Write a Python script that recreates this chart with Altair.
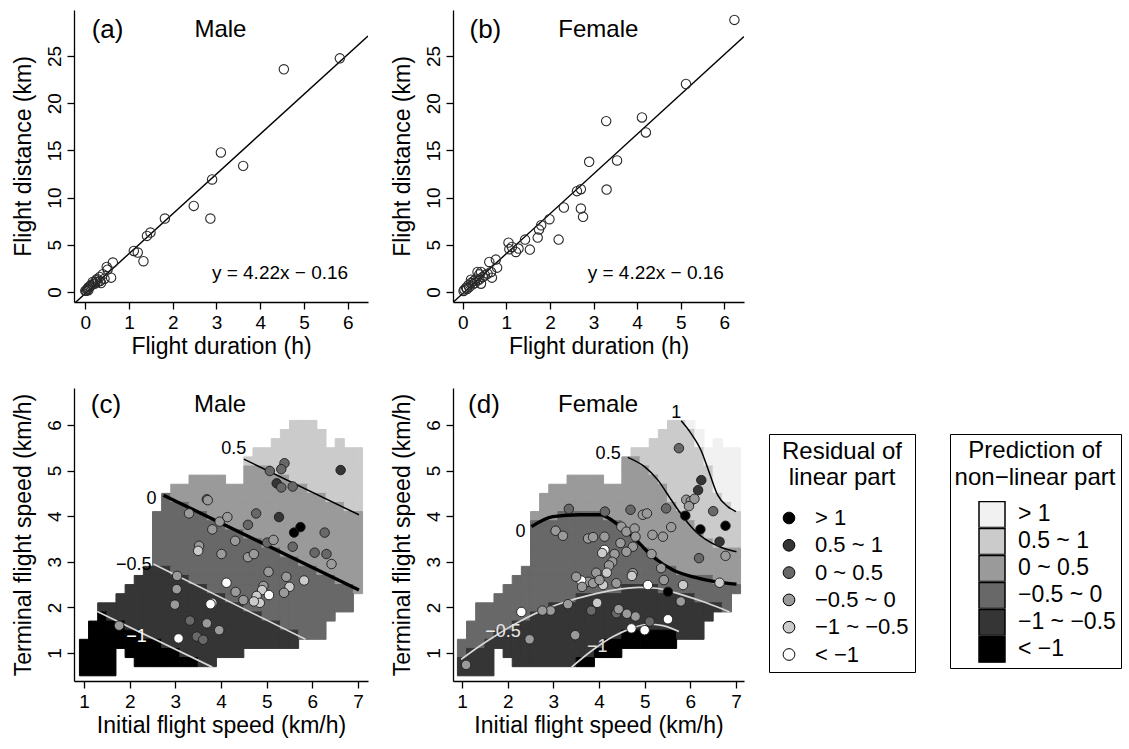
import altair as alt
import pandas as pd

FONT = "Liberation Sans"

# ---------------- legend classes and grey levels ----------------
LABELS = ["> 1", "0.5 ~ 1", "0 ~ 0.5", "−0.5 ~ 0", "−1 ~ −0.5", "< −1"]
PRED_COLORS = ["#f1f1f1", "#cbcbcb", "#9a9a9a", "#686868", "#353535", "#000000"]
RESID_COLORS = ["#000000", "#353535", "#686868", "#9a9a9a", "#cbcbcb", "#ffffff"]

# ---------------- (a) male, (b) female: duration vs distance ----------------
male_duration = [5.82, 4.54, 3.61, 3.10, 2.90, 2.86, 2.48, 1.82, 1.49, 1.41,
                 1.11, 1.20, 1.33, 0.63, 0.49, 0.51, 0.59, 0.40, 0.34, 0.27,
                 0.23, 0.17, 0.11, 0.07, 0.04, 0.02, 0.06, 0.13, 0.21, 0.28,
                 0.36, 0.25, 0.09, 0.44, 0.33, 0.17, 0.00, 0.07]
male_distance = [24.75, 23.59, 13.36, 14.78, 11.92, 7.78, 9.12, 7.78, 6.30, 5.94,
                 4.35, 4.18, 3.26, 3.12, 2.65, 2.37, 1.52, 1.88, 1.17, 1.38,
                 1.06, 0.82, 0.61, 0.47, 0.26, 0.12, 0.33, 0.71, 0.88, 1.06,
                 0.95, 1.24, 0.54, 1.41, 1.59, 1.06, 0.12, 0.19]
female_duration = [6.23, 5.12, 4.11, 4.20, 3.29, 3.54, 2.90, 3.30, 2.62, 2.71,
                   2.71, 2.76, 2.32, 1.99, 1.80, 1.75, 1.72, 2.20, 1.43, 1.54,
                   1.05, 1.13, 1.07, 1.22, 1.28, 0.76, 0.61, 0.79, 0.67, 0.65,
                   0.42, 0.38, 0.34, 0.42, 0.31, 0.25, 0.19, 0.13, 0.08, 0.04,
                   0.02, 0.15, 0.23, 0.28, 0.34, 0.38, 0.19, 0.10, 0.46, 0.51, 0.57]
female_distance = [28.82, 22.03, 18.49, 16.90, 18.10, 13.93, 13.79, 10.85, 10.68, 10.89,
                   8.84, 7.96, 8.95, 7.71, 7.07, 6.61, 5.76, 5.55, 5.55, 4.49,
                   5.23, 4.77, 4.53, 4.24, 4.60, 3.43, 3.18, 2.58, 1.52, 2.12,
                   2.12, 1.87, 2.12, 0.88, 1.41, 1.17, 0.95, 0.71, 0.46, 0.25,
                   0.11, 0.53, 0.81, 0.95, 1.24, 1.31, 1.31, 0.32, 1.59, 1.77, 1.94]
FIT_SLOPE = 4.22
FIT_INTERCEPT = -0.16
EQ_TEXT = "y = 4.22x − 0.16"
DUR_TICKS = [0, 1, 2, 3, 4, 5, 6]
DIST_TICKS = [0, 5, 10, 15, 20, 25]
SPEED_X_TICKS = [1, 2, 3, 4, 5, 6, 7]
SPEED_Y_TICKS = [1, 2, 3, 4, 5, 6]

# ---------------- (c), (d): prediction raster (cells 0.2 wide) ----------------
# rows from y = 6.0 (top) down to y = 0.6; columns x = 1.0 ... 7.0
# digit = prediction class (0: < -1 ... 5: > 1), '.' = no cell
GRID_X0, GRID_Y_TOP, GRID_STEP = 1.0, 6.0, 0.2
male_pred_rows = [
    ".......... .......... ...444.... .",
    ".......... .......... ..44444... .",
    ".......... .......... .444444.4. .",
    ".......... .........4 4444444444 4",
    ".......... ........44 4444444444 4",
    ".......... ........33 3444444444 4",
    ".......... ..3333..33 3334444444 4",
    ".......... 3333333333 3333344444 4",
    ".........2 3333333333 3333333444 4",
    ".........2 2233333333 3333333334 4",
    "........22 2222333333 3333333333 3",
    "........22 2222223333 3333333333 3",
    "........22 2222222233 3333333333 3",
    "........22 2222222222 3333333333 3",
    "........22 2222222222 2233333333 3",
    "........22 2222222222 2222333333 3",
    ".......111 2222222222 2222223333 3",
    "......1111 1122222222 2222222233 3",
    ".....11111 1111222222 2222222222 3",
    "....111111 1111112222 2222222222 .",
    "..11111111 1111111122 2222222222 .",
    "..01111111 1111111111 22222222.. .",
    ".000011111 1111111111 1122222... .",
    ".000000111 1111111111 1111222... .",
    "0000000001 1111111111 1111...... .",
    "0000.00000 01111111.. .......... .",
    "0000..0000 00011..... .......... .",
    "0000...... .......... .......... .",
]
female_pred_rows = [
    ".......... .......... ...445.... .",
    ".......... .......... ..44445... .",
    ".......... .......... .444445.5. .",
    ".......... .........4 4444444555 5",
    ".......... ........33 4444444555 5",
    ".......... ........33 3444444455 5",
    ".......... ..3333..33 3344444455 5",
    ".......... 3333333333 3334444455 5",
    ".........3 3333333333 3334444445 5",
    ".........3 3333333333 3333444444 5",
    "........33 3222223333 3333344444 4",
    "........22 2222222233 3333334444 4",
    "........22 2222222223 3333333444 4",
    "........22 2222222222 3333333344 4",
    "........22 2222222222 2333333333 3",
    "........22 2222222222 2233333333 3",
    ".......222 2222222222 2222333333 3",
    "......2222 2222222222 2222222233 3",
    ".....22222 2222222211 1122222222 2",
    "....222222 2221111111 1111112222 .",
    "..22222222 1111111111 1111111112 .",
    "..22222211 1111111111 11111111.. .",
    ".222221111 1111111111 1111111... .",
    ".222111111 1111111100 0000111... .",
    "2221111111 1111110000 0000...... .",
    "2111.11111 11111000.. .......... .",
    "1111..1111 11100..... .......... .",
    "1111...... .......... .......... .",
]

# ---------------- (c) male speeds: points + residual class ----------------
male_init = [6.62, 5.39, 5.32, 5.07, 5.22, 5.32, 5.57, 3.69, 3.71, 3.30,
             3.97, 4.14, 4.77, 5.27, 5.60, 5.74, 6.27, 3.81, 4.59, 4.31,
             3.52, 3.50, 4.01, 4.59, 4.72, 5.01, 5.15, 5.57, 6.05, 6.31,
             6.42, 5.04, 5.43, 5.82, 5.50, 5.38, 4.93, 4.90, 4.78, 4.85,
             4.72, 4.49, 4.32, 5.05, 4.12, 3.81, 3.77, 3.04, 3.03, 2.99,
             3.32, 3.69, 3.96, 3.47, 3.61, 3.07, 1.77]
male_term = [5.01, 5.16, 5.03, 4.99, 4.72, 4.63, 4.65, 4.37, 4.35, 4.06,
             3.88, 3.98, 4.06, 3.98, 3.64, 3.76, 3.64, 3.71, 3.81, 3.46,
             3.35, 3.24, 3.17, 3.10, 3.17, 3.42, 3.48, 3.33, 3.20, 3.17,
             2.95, 2.78, 2.67, 2.59, 2.45, 2.32, 2.47, 2.38, 2.25, 2.10,
             2.13, 2.16, 2.34, 2.27, 2.54, 2.10, 2.07, 2.69, 2.40, 2.06,
             1.71, 1.65, 1.50, 1.36, 1.29, 1.32, 1.60]
male_resid = [1, 2, 2, 2, 1, 2, 2, 2, 3, 3,
              3, 3, 2, 1, 0, 0, 2, 3, 2, 3,
              3, 4, 3, 3, 3, 2, 3, 2, 2, 2,
              3, 3, 3, 4, 4, 3, 3, 4, 4, 4,
              4, 3, 3, 5, 5, 4, 5, 3, 3, 3,
              2, 3, 3, 2, 2, 5, 3]

# ---------------- (d) female speeds ----------------
female_init = [5.75, 6.24, 6.17, 5.91, 6.01, 6.09, 5.97, 6.50, 5.89, 6.22,
               6.77, 6.64, 6.77, 6.19, 6.64, 5.84, 5.51, 5.42, 5.07, 5.79,
               5.51, 5.11, 5.00, 4.71, 4.80, 4.61, 4.38, 4.43, 3.96, 3.83,
               3.32, 2.94, 2.76, 2.30, 2.48, 3.48, 1.09, 3.34, 4.13, 4.69,
               4.96, 5.05, 5.47, 3.05, 3.21, 3.76, 3.87, 4.12, 4.12, 4.07,
               4.49, 4.60, 4.78, 4.80, 5.17, 5.40, 5.58, 4.74, 4.60, 4.47,
               4.34, 4.29, 4.22, 5.15, 4.74, 4.72, 4.38, 4.17, 3.94, 4.09,
               3.76, 3.87, 4.01, 3.61, 3.50, 3.63, 5.36]
female_term = [5.49, 4.79, 4.57, 4.36, 4.33, 4.38, 4.22, 4.11, 4.01, 3.71,
               3.79, 3.44, 3.13, 3.08, 2.54, 2.49, 2.34, 2.60, 2.49, 2.13,
               1.74, 1.69, 1.50, 1.54, 1.80, 1.86, 1.87, 1.96, 2.10, 1.93,
               2.07, 1.93, 1.93, 1.90, 1.30, 1.39, 0.74, 4.16, 4.10, 4.14,
               4.03, 4.06, 4.17, 3.68, 3.57, 3.51, 3.54, 3.55, 3.26, 3.19,
               3.77, 3.66, 3.73, 3.55, 3.59, 3.55, 3.76, 3.33, 3.22, 3.41,
               3.17, 3.00, 2.92, 3.17, 2.75, 2.69, 2.53, 2.76, 2.76, 2.49,
               2.56, 2.53, 2.60, 2.59, 2.67, 2.45, 2.86]
female_resid = [2, 1, 1, 3, 3, 3, 3, 2, 0, 0,
                0, 1, 3, 2, 4, 4, 0, 3, 5, 3,
                5, 2, 5, 5, 3, 3, 2, 3, 4, 2,
                3, 3, 3, 5, 3, 3, 3, 2, 2, 2,
                3, 3, 2, 3, 3, 3, 3, 3, 5, 4,
                3, 3, 3, 3, 3, 3, 3, 3, 3, 3,
                3, 3, 3, 3, 3, 4, 3, 4, 3, 4,
                3, 3, 3, 5, 3, 3, 3]

# ---------------- contour lines of the non-linear prediction ----------------
male_contours = {
    "0.5": ([4.50, 7.02], [5.25, 4.03]),
    "0": ([2.74, 7.02], [4.46, 2.38]),
    "−0.5": ([2.52, 5.85], [2.95, 1.30]),
    "−1": ([1.29, 3.81], [1.91, 0.69]),
}
female_contours = {
    "1": ([5.80, 6.01, 6.23, 6.42, 6.60, 6.82, 7.00],
          [6.09, 5.82, 5.45, 4.94, 4.46, 4.21, 4.10]),
    "0.5": ([4.63, 4.99, 5.29, 5.58, 5.89, 6.12, 6.35, 6.64, 7.01],
            [5.29, 5.09, 4.79, 4.36, 3.92, 3.66, 3.48, 3.33, 3.22]),
    "0": ([2.52, 2.99, 3.58, 4.02, 4.38, 4.74, 5.18, 5.62, 6.06, 6.57, 7.01],
          [3.77, 3.99, 4.03, 4.03, 3.84, 3.55, 3.11, 2.82, 2.67, 2.56, 2.51]),
    "−0.5": ([0.98, 1.31, 1.75, 2.26, 2.77, 3.29, 3.80, 4.31, 4.89, 5.26, 5.84, 6.35, 6.86],
             [0.86, 1.10, 1.39, 1.69, 1.94, 2.13, 2.27, 2.38, 2.44, 2.42, 2.27, 2.10, 1.90]),
    "−1": ([3.40, 3.87, 4.31, 4.74, 5.07, 5.40, 5.75],
           [0.69, 1.07, 1.36, 1.55, 1.63, 1.60, 1.47]),
}
CONTOUR_STYLE = {"1": ("black", 1.5), "0.5": ("black", 1.5), "0": ("black", 3.4),
                 "−0.5": ("#d6d6d6", 1.7), "−1": ("#d6d6d6", 1.7)}
male_label_text = ["0.5", "0", "−0.5", "−1"]
male_label_x = [4.28, 2.48, 2.09, 2.15]
male_label_y = [5.47, 4.38, 2.93, 1.34]
male_label_color = ["black", "black", "black", "white"]
female_label_text = ["1", "0.5", "0", "−0.5", "−1"]
female_label_x = [5.69, 4.20, 2.28, 1.90, 3.96]
female_label_y = [6.27, 5.36, 3.65, 1.46, 1.14]
female_label_color = ["black", "black", "black", "#e8e8e8", "#dcdcdc"]

# panel tags
TAG_FONT, SEX_FONT = 26, 24


def raster_frame(rows):
    recs = []
    for j, row in enumerate(rows):
        row = row.replace(" ", "")
        assert len(row) == 31, (j, len(row))
        yc = round(GRID_Y_TOP - GRID_STEP * j, 3)
        for i, ch in enumerate(row):
            if ch == ".":
                continue
            xc = round(GRID_X0 + GRID_STEP * i, 3)
            recs.append({"x": xc - GRID_STEP / 2, "x2": xc + GRID_STEP / 2,
                         "y": yc - GRID_STEP / 2, "y2": yc + GRID_STEP / 2,
                         "pred": LABELS[5 - int(ch)]})
    return pd.DataFrame(recs)


def tag_layers(X, Y, tag, sex, tx, sx, ty):
    t1 = alt.Chart(pd.DataFrame({"x": [tx], "y": [ty], "t": [tag]})).mark_text(
        font=FONT, fontSize=TAG_FONT, color="black", align="center", baseline="middle"
    ).encode(x=X, y=Y, text="t:N")
    t2 = alt.Chart(pd.DataFrame({"x": [sx], "y": [ty], "t": [sex]})).mark_text(
        font=FONT, fontSize=SEX_FONT, color="black", align="center", baseline="middle"
    ).encode(x=X, y=Y, text="t:N")
    return [t1, t2]


def scatter_panel(dur, dist, tag, sex, xdom, ydom, w, h, tag_x, sex_x, tag_y, eq_x, eq_y):
    xs = alt.Scale(domain=xdom, nice=False, zero=False)
    ys = alt.Scale(domain=ydom, nice=False, zero=False)
    X = alt.X("x:Q", scale=xs, axis=alt.Axis(title="Flight duration (h)", values=DUR_TICKS))
    Y = alt.Y("y:Q", scale=ys, axis=alt.Axis(title="Flight distance (km)", values=DIST_TICKS))
    fit_x = list(xdom)
    fit = pd.DataFrame({"x": fit_x, "y": [FIT_SLOPE * v + FIT_INTERCEPT for v in fit_x]})
    line = alt.Chart(fit).mark_line(color="black", strokeWidth=1.4, clip=True).encode(x=X, y=Y)
    pts = alt.Chart(pd.DataFrame({"x": dur, "y": dist})).mark_point(
        shape="circle", filled=False, size=88, color="#2a2a2a", strokeWidth=1.1, opacity=1
    ).encode(x=X, y=Y)
    eq = alt.Chart(pd.DataFrame({"x": [eq_x], "y": [eq_y], "t": [EQ_TEXT]})).mark_text(
        font=FONT, fontSize=19, color="black", align="right", baseline="middle"
    ).encode(x=X, y=Y, text="t:N")
    return alt.layer(line, pts, eq, *tag_layers(X, Y, tag, sex, tag_x, sex_x, tag_y)).properties(
        width=w, height=h)


def speed_panel(rows, init, term, resid, contours, ltext, lx, ly, lcol, tag, sex,
                xdom, ydom, w, h, with_legend):
    xs = alt.Scale(domain=xdom, nice=False, zero=False)
    ys = alt.Scale(domain=ydom, nice=False, zero=False)
    X = alt.X("x:Q", scale=xs, axis=alt.Axis(title="Initial flight speed (km/h)", values=SPEED_X_TICKS))
    Y = alt.Y("y:Q", scale=ys, axis=alt.Axis(title="Terminal flight speed (km/h)", values=SPEED_Y_TICKS))

    if with_legend:
        pred_legend = alt.Legend(
            title=["Prediction of", "non−linear part"], orient="none", legendX=497, legendY=46,
            symbolType="square", symbolSize=676, symbolStrokeColor="black", symbolStrokeWidth=1.5,
            rowPadding=0, clipHeight=26.8, labelFont=FONT, labelFontSize=23, labelColor="black",
            labelOffset=12, symbolOffset=23, padding=5, strokeColor="black", fillColor="white",
            titleFont=FONT, titleFontSize=24, titleFontWeight="normal", titleColor="black",
            titleAnchor="middle", titleAlign="center", titleLineHeight=27, titlePadding=11)
        resid_legend = alt.Legend(
            title=["Residual of", "linear part"], orient="none", legendX=316, legendY=46,
            symbolType="circle", symbolSize=137, symbolStrokeColor="black", symbolStrokeWidth=1,
            rowPadding=5.3, labelFont=FONT, labelFontSize=22, labelColor="black", labelOffset=15,
            symbolOffset=3, padding=6, strokeColor="black", fillColor="white",
            titleFont=FONT, titleFontSize=24, titleFontWeight="normal", titleColor="black",
            titleAnchor="middle", titleAlign="center", titleLineHeight=26, titlePadding=17)
    else:
        pred_legend = None
        resid_legend = None

    pred_scale = alt.Scale(domain=LABELS, range=PRED_COLORS)
    raster = alt.Chart(raster_frame(rows)).mark_rect(strokeWidth=1.0).encode(
        x=X, x2="x2:Q", y=Y, y2="y2:Q",
        fill=alt.Fill("pred:N", scale=pred_scale, legend=pred_legend),
        stroke=alt.Stroke("pred:N", scale=pred_scale, legend=None),
    )
    layers = [raster]
    for lev, (cx, cy) in contours.items():
        col, sw = CONTOUR_STYLE[lev]
        df = pd.DataFrame({"x": cx, "y": cy, "o": list(range(len(cx)))})
        layers.append(alt.Chart(df).mark_line(color=col, strokeWidth=sw, interpolate="monotone",
                                              clip=True).encode(x=X, y=Y, order="o:Q"))
    lab = pd.DataFrame({"x": lx, "y": ly, "t": ltext, "c": lcol})
    layers.append(alt.Chart(lab).mark_text(font=FONT, fontSize=18, align="center", baseline="middle")
                  .encode(x=X, y=Y, text="t:N", color=alt.Color("c:N", scale=None)))
    pts = pd.DataFrame({"x": init, "y": term, "resid": [LABELS[k] for k in resid]})
    layers.append(alt.Chart(pts).mark_point(shape="circle", filled=True, size=90, stroke="#1e1e1e",
                                            strokeWidth=0.9, opacity=1).encode(
        x=X, y=Y, fill=alt.Fill("resid:N", scale=alt.Scale(domain=LABELS, range=RESID_COLORS),
                                legend=resid_legend)))
    layers += tag_layers(X, Y, tag, sex, 1.48, 3.98, 6.44)
    return alt.layer(*layers).resolve_scale(fill="independent").properties(width=w, height=h)


panel_a = scatter_panel(male_duration, male_distance, "(a)", "Male", [-0.258, 6.464], [-1.06, 29.87],
                        294, 292, 0.51, 3.09, 27.76, 6.01, 1.98)
panel_b = scatter_panel(female_duration, female_distance, "(b)", "Female", [-0.222, 6.45], [-1.06, 29.87],
                        291, 292, 0.52, 3.11, 27.76, 5.99, 1.98)
panel_c = speed_panel(male_pred_rows, male_init, male_term, male_resid, male_contours,
                      male_label_text, male_label_x, male_label_y, male_label_color,
                      "(c)", "Male", [0.781, 7.219], [0.386, 6.81], 294, 293, False)
panel_d = speed_panel(female_pred_rows, female_init, female_term, female_resid, female_contours,
                      female_label_text, female_label_x, female_label_y, female_label_color,
                      "(d)", "Female", [0.803, 7.175], [0.386, 6.81], 291, 293, True)

IND = dict(x="independent", y="independent", fill="independent", stroke="independent")
chart = alt.concat(panel_a, panel_b, panel_c, panel_d, columns=2, bounds="flush",
                   spacing={"row": 86, "column": 85}).resolve_scale(**IND).properties(
    padding={"left": 11, "top": 10, "right": 2, "bottom": 2}, background="white"
).configure_view(stroke=None).configure_axis(
    domainColor="black", domainWidth=1.3, tickColor="black", tickWidth=1.3, tickSize=7,
    labelFont=FONT, labelFontSize=19, labelColor="black", titleFont=FONT, titleFontSize=23,
    titleFontWeight="normal", titleColor="black", grid=False, labelPadding=4,
).configure_axisY(labelAngle=-90, labelAlign="center", labelBaseline="bottom", labelPadding=3,
                  titlePadding=10).configure_axisX(titlePadding=3)

chart.save("out.html", embed_options={"renderer": "svg", "actions": False})
